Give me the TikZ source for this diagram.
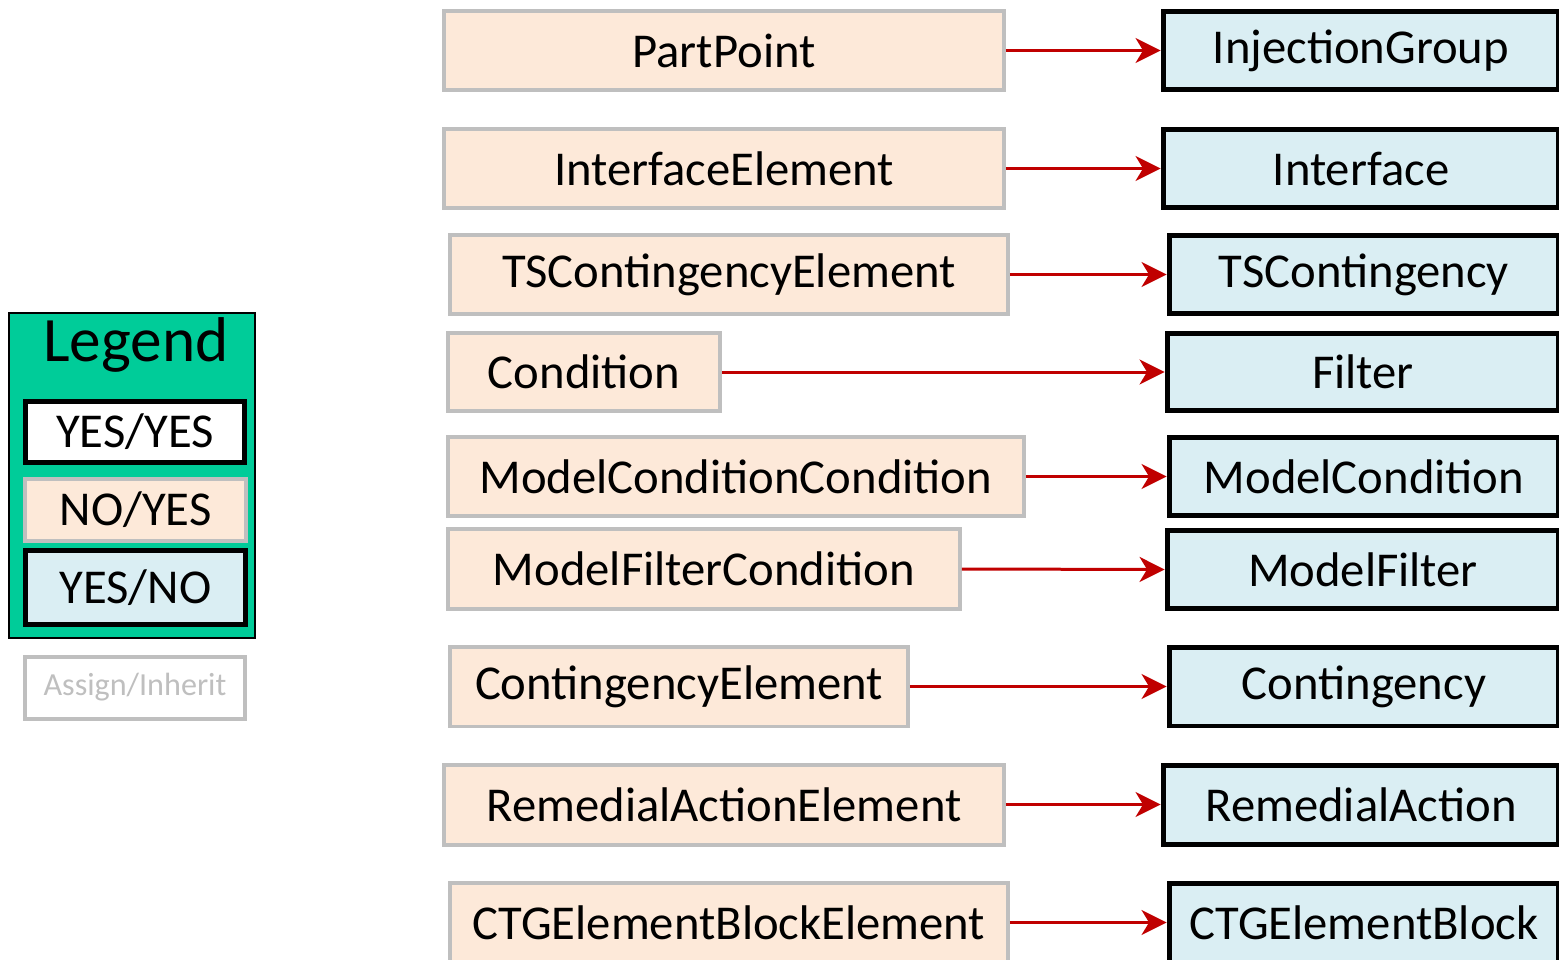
\documentclass[tikz,border=0pt]{standalone}
\usepackage{fontspec}
\setmainfont{Carlito}
\usetikzlibrary{arrows.meta}

\definecolor{peach}{HTML}{FDE9D9}
\definecolor{paleblue}{HTML}{DAEEF3}
\definecolor{legendgreen}{HTML}{00CC99}
\definecolor{boxgray}{HTML}{BFBFBF}
\definecolor{linkred}{HTML}{C00000}

\begin{document}
\begin{tikzpicture}[x=0.02cm,y=-0.02cm,
		elem/.style={draw=boxgray,fill=peach,line width=0.08cm,minimum height=1.6cm,inner sep=0pt,font=\fontsize{27.7}{32}\selectfont},
		group/.style={draw=black,fill=paleblue,line width=0.1cm,minimum height=1.58cm,inner sep=0pt,font=\fontsize{27.7}{32}\selectfont},
		link/.style={draw=linkred,line width=0.06cm,-{Stealth[length=0.5cm,width=0.5cm,inset=0.15cm]}}]
	\clip (0,0) rectangle (1559,960);
	\useasboundingbox (0,0) rectangle (1559,960);

	% legend
	\node[draw=black,fill=legendgreen,line width=0.04cm,minimum width=4.94cm,minimum height=6.52cm,inner sep=0pt] (legend) at (132,475.5) {};
	\node[font=\fontsize{36}{40}\selectfont] (legendtitle) at (136,345) {Legend};
	\node[group,fill=white,minimum width=4.38cm,minimum height=1.24cm] (yy) at (135,432) {YES/YES};
	\node[elem,minimum width=4.42cm,minimum height=1.26cm] (ny) at (135.5,510) {NO/YES};
	\node[group,minimum width=4.40cm,minimum height=1.50cm] (yn) at (135.5,587.5) {YES/NO};
	\node[draw=boxgray,fill=white,line width=0.08cm,minimum width=4.40cm,minimum height=1.24cm,inner sep=0pt,text=boxgray,font=\fontsize{18.3}{22}\selectfont] (ai) at (135,687.5) {Assign/Inherit};

	% elements
	\node[elem,minimum width=11.2cm] (pp) at (724,50.5) {PartPoint};
	\node[elem,minimum width=11.2cm] (ie) at (724,168.5) {InterfaceElement};
	\node[elem,minimum width=11.16cm] (tse) at (729,274.5) {TSContingencyElement};
	\node[elem,minimum width=5.44cm,minimum height=1.58cm] (cond) at (584,372) {Condition};
	\node[elem,minimum width=11.52cm] (mcc) at (736,476.5) {ModelConditionCondition};
	\node[elem,minimum width=10.24cm,minimum height=1.62cm] (mfc) at (704,569) {ModelFilterCondition};
	\node[elem,minimum width=9.16cm] (ce) at (679,686.5) {ContingencyElement};
	\node[elem,minimum width=11.2cm] (rae) at (724,804.5) {RemedialActionElement};
	\node[elem,minimum width=11.16cm] (cbe) at (729,922.5) {CTGElementBlockElement};

	% groups
	\node[group,minimum width=7.92cm] (ig) at (1361,50.5) {InjectionGroup};
	\node[group,minimum width=7.92cm] (itf) at (1361,168.5) {Interface};
	\node[group,minimum width=7.80cm] (tsc) at (1364,274.5) {TSContingency};
	\node[group,minimum width=7.84cm,minimum height=1.56cm] (flt) at (1363,372) {Filter};
	\node[group,minimum width=7.80cm] (mc) at (1364,476.5) {ModelCondition};
	\node[group,minimum width=7.84cm] (mf) at (1363,569.5) {ModelFilter};
	\node[group,minimum width=7.80cm] (ctg) at (1364,686.5) {Contingency};
	\node[group,minimum width=7.92cm] (ra) at (1361,804.5) {RemedialAction};
	\node[group,minimum width=7.80cm] (cb) at (1364,922.5) {CTGElementBlock};

	% assign/inherit links
	\foreach \from/\to in {pp/ig,ie/itf,tse/tsc,cond/flt,mcc/mc,mfc/mf,ce/ctg,rae/ra,cbe/cb}
		\draw[link] (\from.east) -- (\to.west);
\end{tikzpicture}
\end{document}
